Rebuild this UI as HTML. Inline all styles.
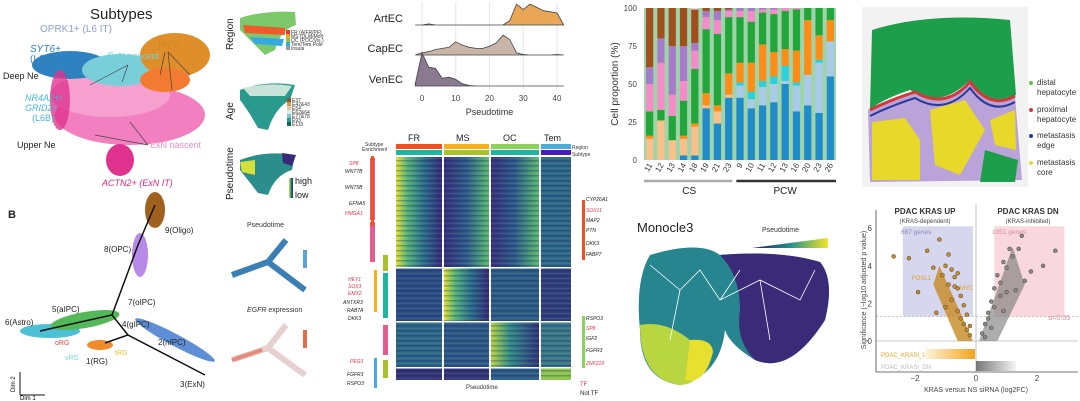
<!DOCTYPE html>
<html><head><meta charset="utf-8"><style>
html,body{margin:0;padding:0;background:#fff;}
svg{display:block;font-family:"Liberation Sans",sans-serif;}
</style></head><body>
<svg id="s" width="1080" height="401" viewBox="0 0 1080 401">
<defs>
<linearGradient id="hm1" x1="0" x2="1" y1="0" y2="0"><stop offset="0" stop-color="#e8e33a"/><stop offset="0.25" stop-color="#55b57a"/><stop offset="0.6" stop-color="#2a6f8e"/><stop offset="1" stop-color="#352a7a"/></linearGradient>
<linearGradient id="hm2" x1="0" x2="1" y1="0" y2="0"><stop offset="0" stop-color="#38307e"/><stop offset="0.5" stop-color="#2c5e8c"/><stop offset="1" stop-color="#5bbd70"/></linearGradient>
<linearGradient id="hm3" x1="0" x2="1"><stop offset="0" stop-color="#b9d843"/><stop offset="0.4" stop-color="#2f8c8a"/><stop offset="1" stop-color="#33357d"/></linearGradient>
<linearGradient id="viri" x1="0" x2="1"><stop offset="0" stop-color="#2a1b62"/><stop offset="0.5" stop-color="#21908c"/><stop offset="1" stop-color="#f1e52a"/></linearGradient>
<linearGradient id="vdn" x1="0" x2="1"><stop offset="0" stop-color="#f4f4f4"/><stop offset="1" stop-color="#777"/></linearGradient>
<linearGradient id="vup" x1="0" x2="1"><stop offset="0" stop-color="#fff4dc"/><stop offset="1" stop-color="#f2a41d"/></linearGradient>
<pattern id="rows" width="6" height="5" patternUnits="userSpaceOnUse"><rect y="0" width="6" height="1.5" fill="#1a1a5a" opacity="0.3"/><rect y="3" width="6" height="0.8" fill="#9ad060" opacity="0.15"/></pattern>
</defs>

<!-- Left UMAP -->
<g>
<text x="90" y="19" font-size="15" fill="#222">Subtypes</text>
<text x="40" y="32" font-size="10" fill="#8aa3c8">OPRK1+ (L6 IT)</text>
<ellipse cx="130" cy="115" rx="75" ry="30" fill="#f27fbf"/>
<ellipse cx="110" cy="95" rx="60" ry="22" fill="#f6a0cf"/>
<ellipse cx="70" cy="65" rx="38" ry="14" fill="#2f82c0"/>
<ellipse cx="120" cy="70" rx="38" ry="16" fill="#79cfd9"/>
<ellipse cx="175" cy="55" rx="35" ry="22" fill="#e08e2a"/>
<ellipse cx="165" cy="80" rx="25" ry="12" fill="#f27b31"/>
<ellipse cx="120" cy="160" rx="14" ry="16" fill="#e0338f"/>
<ellipse cx="60" cy="100" rx="10" ry="30" fill="#e0338f" opacity="0.8"/>
<text x="30" y="52" font-size="10" fill="#2f82c0" font-style="italic">SYT6+</text>
<text x="30" y="62" font-size="10" fill="#2f82c0">(L6 CT)</text>
<text x="3" y="79" font-size="9" fill="#222">Deep Ne</text>
<text x="25" y="101" font-size="9" fill="#3fb8d8" font-style="italic">NR4A2+/</text>
<text x="25" y="111" font-size="9" fill="#3fb8d8" font-style="italic">GRID2+</text>
<text x="32" y="121" font-size="9" fill="#3fb8d8">(L6B)</text>
<text x="17" y="148" font-size="9" fill="#222">Upper Ne</text>
<text x="108" y="59" font-size="9" fill="#6fd3d8">ExN nascent</text>
<text x="158" y="49" font-size="10" fill="#d08a1a">IPCs</text>
<text x="150" y="148" font-size="9" fill="#f48cbf">ExN nascent</text>
<text x="102" y="186" font-size="9" fill="#d6287f" font-style="italic">ACTN2+ (ExN IT)</text>
<path d="M90 85 L128 65 M122 82 L128 65 M160 75 L165 52 M172 90 L168 52 M190 75 L168 52 M95 135 L148 145 M130 122 L148 145" stroke="#444" stroke-width="0.7" fill="none"/>
</g>

<!-- small umaps -->
<g>
<text transform="translate(233,50) rotate(-90)" font-size="10" fill="#222">Region</text>
<path d="M240 18 Q265 10 295 12 L296 25 Q280 30 275 50 L265 55 Q250 40 240 30Z" fill="#7dc86b"/>
<path d="M243 25 L285 28 L285 35 L245 33Z" fill="#ef5a2a"/>
<path d="M250 37 L284 39 L282 46 L255 44Z" fill="#36a9e1"/>
<rect x="286" y="30" width="4" height="4" fill="#e8392a"/><rect x="286" y="34" width="4" height="4" fill="#f6a21d"/><rect x="286" y="38" width="4" height="4" fill="#8cc63f"/><rect x="286" y="42" width="4" height="4" fill="#36a9e1"/><rect x="286" y="46" width="4" height="4" fill="#999"/>
<g font-size="5" fill="#333"><text x="291" y="34">FR (A/FR/PF)</text><text x="291" y="38">MS (DLM/Mot)</text><text x="291" y="42">OC (POC/Vis.)</text><text x="291" y="46">Tem/Tem.Pole</text><text x="291" y="50">Insula</text></g>
<text transform="translate(233,120) rotate(-90)" font-size="10" fill="#222">Age</text>
<path d="M240 90 Q265 80 295 85 L290 100 Q275 108 268 130 L258 128 Q248 110 240 100Z" fill="#2a9a8e"/>
<path d="M243 88 Q268 82 292 86 L285 96 L250 96Z" fill="#c9e3d8"/>
<g><rect x="287" y="98" width="4" height="4" fill="#8c5a1f"/><rect x="287" y="102" width="4" height="4" fill="#c49a5a"/><rect x="287" y="106" width="4" height="4" fill="#e3c89a"/><rect x="287" y="110" width="4" height="4" fill="#d8eee8"/><rect x="287" y="114" width="4" height="4" fill="#7bc9c2"/><rect x="287" y="118" width="4" height="4" fill="#2f9b90"/><rect x="287" y="122" width="4" height="4" fill="#10665f"/></g>
<g font-size="5" fill="#333"><text x="292" y="102">E37</text><text x="292" y="106">E42&amp;43</text><text x="292" y="110">E54</text><text x="292" y="114">E62&amp;64</text><text x="292" y="118">E77&amp;78</text><text x="292" y="122">E93</text><text x="292" y="126">E110</text></g>
<text transform="translate(233,200) rotate(-90)" font-size="10" fill="#222">Pseudotime</text>
<path d="M240 160 Q265 150 295 155 L292 170 Q275 175 268 195 L258 193 Q248 180 240 170Z" fill="#2b8e8c"/>
<path d="M240 162 L255 160 L255 175 L242 172Z" fill="#d8e03a"/>
<path d="M282 153 L296 155 L292 166 L283 163Z" fill="#3b2a7a"/>
<rect x="289" y="178" width="4" height="20" fill="url(#viri)" transform="rotate(180 291 188)"/>
<text x="295" y="184" font-size="9" fill="#222">high</text><text x="295" y="198" font-size="9" fill="#222">low</text>
</g>

<!-- trajectory B -->
<g>
<text x="8" y="218" font-size="11" font-weight="bold" fill="#222">B</text>
<ellipse cx="155" cy="210" rx="10" ry="18" fill="#a0601e"/>
<ellipse cx="140" cy="255" rx="8" ry="22" fill="#b78ae8"/>
<ellipse cx="50" cy="331" rx="30" ry="7" fill="#4cc0d4"/>
<ellipse cx="85" cy="320" rx="35" ry="8" fill="#54b85a" transform="rotate(-10 85 320)"/>
<ellipse cx="175" cy="340" rx="45" ry="6" fill="#5e8fd6" transform="rotate(28 175 340)"/>
<ellipse cx="100" cy="345" rx="13" ry="5" fill="#f08a2a"/>
<path d="M40 331 L112 315 L138 245 L155 205 M112 315 L128 335 L205 375 M128 335 L105 343" stroke="#111" stroke-width="1.5" fill="none"/>
<g font-size="8" fill="#222"><text x="165" y="233">9(Oligo)</text><text x="104" y="252">8(OPC)</text><text x="128" y="305">7(oIPC)</text><text x="52" y="312">5(aIPC)</text><text x="5" y="325">6(Astro)</text><text x="122" y="327">4(gIPC)</text><text x="158" y="345">2(nIPC)</text><text x="86" y="364">1(RG)</text><text x="180" y="387">3(ExN)</text></g>
<text x="55" y="345" font-size="7" fill="#e8443a">oRG</text><text x="65" y="360" font-size="7" fill="#6fd8e0">vRG</text><text x="115" y="355" font-size="7" fill="#e8c52a">tRG</text>
<path d="M20 395 L20 372 M20 395 L45 395" stroke="#111" stroke-width="1" fill="none"/>
<text x="20" y="400" font-size="6">Dim 1</text>
<text transform="translate(15,392) rotate(-90)" font-size="6">Dim 2</text>
<text x="247" y="227" font-size="7" fill="#333">Pseudotime</text>
<path d="M232 275 L268 262 L286 240 M268 262 L305 290" stroke="#3b7fb5" stroke-width="6" fill="none"/>
<rect x="303" y="250" width="4" height="18" fill="#5ba3d4"/>
<text x="247" y="312" font-size="7" fill="#333" font-style="italic">EGFR <tspan font-style="normal">expression</tspan></text>
<path d="M232 360 L268 348 L286 325 M268 348 L305 375" stroke="#e6cfcf" stroke-width="6" fill="none"/>
<path d="M232 360 L262 350" stroke="#e88a7a" stroke-width="4"/>
<rect x="303" y="330" width="4" height="18" fill="#e86a4a"/>
</g>

<!-- Ridgeline -->
<g id="ridge"></g>

<!-- Heatmap -->
<g>
<rect x="396" y="144" width="46" height="5" fill="#f25022"/><rect x="444" y="144" width="45" height="5" fill="#f8b01a"/><rect x="491" y="144" width="48" height="5" fill="#8cd35e"/><rect x="541" y="144" width="30" height="5" fill="#4aaae8"/>
<rect x="396" y="150" width="46" height="5" fill="#1fb6a0"/><rect x="444" y="150" width="45" height="5" fill="#a7c22a"/><rect x="491" y="150" width="48" height="5" fill="#1fb6a0"/><rect x="541" y="150" width="30" height="5" fill="#4b1db8"/>
<g font-size="9" fill="#222"><text x="408" y="141">FR</text><text x="456" y="141">MS</text><text x="503" y="141">OC</text><text x="544" y="141">Tem</text></g>
<g font-size="5" fill="#333"><text x="572" y="149">Region</text><text x="572" y="156">Subtype</text><text x="365" y="146">Subtype</text><text x="362" y="151">Enrichment</text></g>
<rect x="396" y="157" width="46" height="110" fill="url(#hm1)"/><rect x="444" y="157" width="45" height="110" fill="url(#hm2)"/><rect x="491" y="157" width="48" height="110" fill="url(#hm2)"/><rect x="541" y="157" width="30" height="110" fill="#2e6a8c"/>
<rect x="396" y="268" width="46" height="53" fill="#2c4f88"/><rect x="444" y="268" width="45" height="53" fill="url(#hm1)"/><rect x="491" y="268" width="48" height="53" fill="#2d5e8a"/><rect x="541" y="268" width="30" height="53" fill="#33407f"/>
<rect x="396" y="322" width="46" height="45" fill="#2d6a8c"/><rect x="444" y="322" width="45" height="45" fill="#2e5a8a"/><rect x="491" y="322" width="48" height="45" fill="url(#hm3)"/><rect x="541" y="322" width="30" height="45" fill="#3a7a8a"/>
<rect x="396" y="368" width="46" height="12" fill="#34357a"/><rect x="444" y="368" width="45" height="12" fill="#34357a"/><rect x="491" y="368" width="48" height="12" fill="#2d5e8a"/><rect x="541" y="368" width="30" height="12" fill="#8ec850"/>
<rect x="396" y="157" width="175" height="223" fill="url(#rows)"/>
<g id="hmstripes"></g>
<text x="466" y="389" font-size="6" fill="#333">Pseudotime</text>
<rect x="370" y="158" width="5" height="62" fill="#e35d8f"/><rect x="370" y="222" width="5" height="40" fill="#e35d8f"/><rect x="383" y="255" width="5" height="16" fill="#a7c22a"/><rect x="383" y="273" width="5" height="45" fill="#1fb6a0"/><rect x="383" y="325" width="5" height="30" fill="#e35d8f"/><rect x="383" y="360" width="5" height="18" fill="#a7c22a"/>
<rect x="371" y="156" width="3" height="70" fill="#f25022"/><rect x="374" y="270" width="3" height="42" fill="#f8b01a"/><rect x="374" y="358" width="3" height="30" fill="#4aaae8"/>
<rect x="582" y="200" width="3" height="60" fill="#f25022"/><rect x="582" y="316" width="3" height="52" fill="#8cd35e"/>
<g font-size="5" font-style="italic"><text x="349" y="165" fill="#e0334a">SP8</text><text x="345" y="173" fill="#222">WNT7B</text><text x="345" y="189" fill="#222">WNT5B</text><text x="349" y="205" fill="#222">EFNA5</text><text x="345" y="215" fill="#e0334a">HMGA1</text><text x="348" y="281" fill="#e0334a">HEY1</text><text x="348" y="288" fill="#e0334a">SOX3</text><text x="348" y="295" fill="#e0334a">EMX2</text><text x="343" y="304" fill="#222">ANTXR3</text><text x="347" y="312" fill="#222">RAB7A</text><text x="348" y="320" fill="#222">DKK3</text><text x="350" y="363" fill="#e0334a">PEG3</text><text x="347" y="376" fill="#222">FGFR3</text><text x="347" y="385" fill="#222">RSPO3</text>
<text x="586" y="201" fill="#222">CYP26A1</text><text x="586" y="212" fill="#e0334a">SOX11</text><text x="586" y="222" fill="#222">MAP2</text><text x="586" y="232" fill="#222">PTN</text><text x="586" y="245" fill="#222">DKK3</text><text x="586" y="256" fill="#222">FABP7</text><text x="586" y="320" fill="#222">RSPO3</text><text x="586" y="330" fill="#e0334a">SP8</text><text x="586" y="340" fill="#222">IGF2</text><text x="586" y="352" fill="#222">FGFR3</text><text x="586" y="365" fill="#e0334a">ZNF219</text></g>
<text x="580" y="386" font-size="6" fill="#e0334a">TF</text><text x="580" y="395" font-size="6" fill="#222">Not TF</text>
</g>

<!-- stacked bar chart -->
<g id="bars"></g>

<!-- Monocle3 -->
<g>
<text x="637" y="232" font-size="13" fill="#222">Monocle3</text>
<text x="762" y="232" font-size="7" fill="#333">Pseudotime</text>
<path d="M752 248 L828 238 L828 248Z" fill="url(#viri)"/>
<path d="M650 255 Q700 240 720 255 Q780 250 820 262 Q835 280 825 320 Q790 375 755 360 Q730 345 725 330 Q720 375 680 385 Q640 380 640 330 Q635 280 650 255Z" fill="#26858e"/>
<path d="M720 255 Q780 250 820 262 Q835 280 825 320 Q790 375 755 360 Q735 340 740 310 Q740 275 720 255Z" fill="#3a2a78"/>
<path d="M640 325 Q665 320 690 340 Q715 340 712 355 Q700 385 680 385 Q640 380 640 325Z" fill="#b7d640"/>
<path d="M690 340 Q712 338 713 352 Q705 385 685 380Z" fill="#e8e02e"/>
<path d="M650 265 L680 290 L700 270 L720 300 L760 280 L800 300 L815 270 M680 290 L670 340 M760 280 L770 340 M720 300 L740 270" stroke="#fff" stroke-width="0.8" fill="none"/>
</g>

<!-- spatial tissue -->
<g>
<rect x="862" y="7" width="166" height="180" fill="#f2f2f2"/>
<path d="M872 30 Q930 12 1010 20 L1016 95 Q990 110 970 80 Q940 110 910 90 Q880 100 870 110Z" fill="#1c9e4a"/>
<path d="M868 110 Q890 100 915 92 Q945 110 970 82 Q990 110 1015 96 L1022 180 L870 182Z" fill="#b9a3d8"/>
<path d="M872 122 L905 118 L920 140 L920 180 L872 180Z" fill="#e8d82a"/>
<path d="M930 110 L965 100 L985 130 L960 175 L935 165Z" fill="#e8d82a"/>
<path d="M990 120 L1015 110 L1016 150 L995 145Z" fill="#e8d82a"/>
<path d="M985 150 L1018 160 L1015 182 L980 182Z" fill="#1c9e4a"/>
<path d="M870 110 Q890 100 915 92 Q945 110 970 82 Q990 110 1015 96" stroke="#d23a3a" stroke-width="3" fill="none"/>
<path d="M870 116 Q890 106 915 98 Q945 116 970 88 Q990 116 1015 102" stroke="#2a3a98" stroke-width="2" fill="none"/>
<g font-size="8" fill="#333"><circle cx="1031" cy="83" r="2" fill="#5cc040"/><text x="1037" y="85">distal</text><text x="1037" y="95">hepatocyte</text><circle cx="1031" cy="110" r="2" fill="#d23a3a"/><text x="1037" y="112">proximal</text><text x="1037" y="122">hepatocyte</text><circle cx="1031" cy="136" r="2" fill="#2a3a98"/><text x="1037" y="138">metastasis</text><text x="1037" y="148">edge</text><circle cx="1031" cy="163" r="2" fill="#e8d82a"/><text x="1037" y="165">metastasis</text><text x="1037" y="175">core</text></g>
</g>

<!-- volcano -->
<g id="volcano"></g>
</svg>
<script>
const NS="http://www.w3.org/2000/svg";
function mk(p,tag,at,txt){const e=document.createElementNS(NS,tag);for(const k in at)e.setAttribute(k,at[k]);if(txt!==undefined)e.textContent=txt;p.appendChild(e);return e;}

// ---- ridgeline data ----
const ridgeNames=["ArtEC","CapEC","VenEC"];
const ridgeX=[-2,0,2,4,6,8,10,12,14,16,18,20,22,24,26,28,30,32,34,36,38,40,42];
const ridgeArt=[0,0,0.05,0,0,0,0,0,0,0,0,0,0,0,0.2,0.95,0.7,0.95,0.8,0.65,0.6,0.55,0];
const ridgeCap=[0,0.1,0.15,0.25,0.3,0.35,0.6,0.45,0.35,0.3,0.3,0.4,0.55,0.9,0.7,0.1,0.02,0,0,0,0,0.02,0];
const ridgeVen=[0.1,1.5,0.85,0.8,0.35,0.4,0.3,0.1,0.02,0,0,0,0,0,0,0,0,0,0,0,0,0,0];
const ridgeTicks=[0,10,20,30,40];
const rg=document.getElementById('ridge');
const rx=v=>422+v*3.375;
const base=[25,55,86],ht=22,fills=["#e8a656","#c9b5a8","#8a7a90"];
ridgeTicks.forEach(t=>{const l=mk(rg,'line',{x1:rx(t),x2:rx(t),y1:2,y2:90,stroke:'#e6e6e6'});


const tx=mk(rg,'text',{x:rx(t),y:101,'font-size':8,fill:'#444','text-anchor':'middle'},t);

});
[ridgeArt,ridgeCap,ridgeVen].forEach((arr,i)=>{let d=`M${rx(ridgeX[0])} ${base[i]}`;arr.forEach((v,j)=>{d+=` L${rx(ridgeX[j])} ${base[i]-v*ht}`});d+=` L${rx(ridgeX[ridgeX.length-1])} ${base[i]}Z`;
const p=mk(rg,'path',{d:d,fill:fills[i],stroke:'#444','stroke-width':0.8});


const t=mk(rg,'text',{x:403,y:base[i]-3,'font-size':11,fill:'#222','text-anchor':'end'},ridgeNames[i]);

});
const rt=mk(rg,'text',{x:rx(20),y:115,'font-size':9,fill:'#333','text-anchor':'middle'},'Pseudotime');



// heatmap separators
const hs=document.getElementById('hmstripes');
[267,321,367].forEach(y=>{const l=mk(hs,'rect',{x:396,y:y,width:175,height:1.5,fill:'#fff'});});
[442,489,539].forEach(x=>{const l=mk(hs,'rect',{x:x,y:157,width:1.5,height:223,fill:'#fff'});});

// ---- stacked bar data ----
const barCats=["11","12","13","14","18","19","21","23","9","10","11","12","13","16","20","23","26"];
const serNames=["blue","lightblue","cyan","tan","orange","green","pink","purple","brown"];
const serColors=["#1f8bc8","#a9cbe8","#2bd0dc","#f8c08a","#ff8c14","#22a63a","#f58bc8","#a67bc9","#a1501d"];
const sBlue=[0,0,0,3,3,34,24,41,41,34,36,38,50,32,36,31,55];
const sLight=[0,0,0,0,0,0,0,0,8,6,12,12,2,17,20,33,23];
const sCyan=[0,0,0,0,0,0,0,0,2,5,4,5,10,2,0,2,0];
const sTan=[14,26,13,11,19,2,8,2,0,0,0,0,0,0,0,0,0];
const sOrange=[2,0,0,2,2,8,4,14,13,19,24,16,11,21,36,16,14];
const sGreen=[16,7,16,23,36,42,47,37,30,27,21,25,25,27,8,18,8];
const sPink=[18,31,14,13,12,8,9,4,4,7,2,3,2,1,0,0,0];
const sPurple=[11,16,32,23,5,4,6,1,2,2,1,1,0,0,0,0,0];
const sBrown=[39,20,25,25,22,2,2,1,0,0,0,0,0,0,0,0,0];
const yTicks=[0,25,50,75,100];
const series=[sBlue,sLight,sCyan,sTan,sOrange,sGreen,sPink,sPurple,sBrown];
const bg=document.getElementById('bars');
const bx0=644,bx1=836,by0=160,by1=8;
const yS=v=>by0-(v/100)*(by0-by1);
const bw=(bx1-bx0)/barCats.length;
yTicks.forEach(t=>{const tx=mk(bg,'text',{x:637,y:yS(t)+3,'font-size':8,fill:'#444','text-anchor':'end'},t);

});
const yt=mk(bg,'text',{transform:`translate(618,84) rotate(-90)`,'font-size':10,fill:'#333','text-anchor':'middle'},'Cell proportion (%)');


mk(bg,'rect',{x:bx0,y:by1,width:bx1-bx0,height:by0-by1,fill:'#9fd4ab'});
barCats.forEach((c,i)=>{let acc=0;const x=bx0+i*bw+bw*0.18;
series.forEach((s,k)=>{const v=s[i];if(v<=0)return;const y=yS(acc+v);
const r=mk(bg,'rect',{x:x,y:y,width:bw*0.64,height:yS(acc)-y,fill:serColors[k]});

acc+=v;});
const top=yS(acc);if(acc<100){const r=mk(bg,'rect',{x:x,y:yS(100),width:bw*0.64,height:top-yS(100),fill:'#f6d0e6'});}
const tx=mk(bg,'text',{transform:`translate(${x+bw*0.32+3},${by0+5}) rotate(-60)`,'font-size':8,fill:'#333','text-anchor':'end'},c);

});
mk(bg,'line',{x1:bx0,x2:bx0+8*bw-2,y1:181,y2:181,stroke:'#aaa','stroke-width':2.5});
mk(bg,'line',{x1:bx0+8*bw+2,x2:bx1,y1:181,y2:181,stroke:'#333','stroke-width':2.5});
const g1=mk(bg,'text',{x:bx0+4*bw,y:194,'font-size':10,fill:'#222','text-anchor':'middle'},'CS');
const g2=mk(bg,'text',{x:bx0+12.5*bw,y:194,'font-size':10,fill:'#222','text-anchor':'middle'},'PCW');

// ---- volcano data ----
const vFC=[-2.7,-2.2,-1.9,-1.6,-1.4,-1.2,-1.1,-1.0,-0.9,-0.8,-0.8,-0.7,-0.6,-0.6,-0.5,-0.5,-0.4,-0.4,-0.3,-0.3,-0.2,-0.2,-1.3,-1.0,-0.7,-0.9,-0.6,0.2,0.3,0.4,0.5,0.6,0.7,0.8,0.9,1.0,1.2,1.4,1.6,1.8,2.2,2.6,0.4,0.6,0.8,1.0,1.1,0.5,0.3,0.9,1.3,1.5];
const vSig=[4.5,4.4,2.6,4.8,3.9,5.4,3.5,4.0,3.0,3.8,2.2,3.4,2.8,1.6,2.4,1.2,1.9,0.9,1.4,0.6,0.8,0.3,1.5,1.8,2.9,4.6,3.6,0.4,0.9,1.5,2.1,2.8,3.5,3.1,4.2,3.9,4.5,4.9,3.2,3.7,4.0,4.8,1.2,1.8,2.4,2.6,4.9,0.7,0.2,1.6,2.7,5.6];
const vTicksX=[-2,0,2];
const vTicksY=[0,2,4,6];
const vg=document.getElementById('volcano');
const vx=v=>976+v*30.5, vy=v=>341-v*18.8;
mk(vg,'rect',{x:vx(-2.4),y:vy(6.1),width:vx(-0.1)-vx(-2.4),height:vy(1.3)-vy(6.1),fill:'#d6d6ee'});
mk(vg,'rect',{x:vx(0.6),y:vy(6.1),width:vx(2.9)-vx(0.6),height:vy(1.3)-vy(6.1),fill:'#f8d8de'});
mk(vg,'line',{x1:876,x2:1078,y1:vy(1.3),y2:vy(1.3),stroke:'#aaa','stroke-dasharray':'2,2','stroke-width':0.6});
mk(vg,'line',{x1:876,x2:1078,y1:vy(0),y2:vy(0),stroke:'#999','stroke-width':0.6});
mk(vg,'line',{x1:vx(0),x2:vx(0),y1:205,y2:372,stroke:'#999','stroke-width':0.6});
mk(vg,'line',{x1:876,x2:876,y1:210,y2:372,stroke:'#444','stroke-width':0.8});
mk(vg,'line',{x1:876,x2:1078,y1:372,y2:372,stroke:'#444','stroke-width':0.8});
mk(vg,'path',{d:`M${vx(-1.2)} ${vy(4)} L${vx(-0.1)} ${vy(0)} L${vx(-0.6)} ${vy(0)} L${vx(-1.4)} ${vy(3)}Z`,fill:'#c78a22',opacity:0.8});
mk(vg,'path',{d:`M${vx(1.2)} ${vy(5)} L${vx(0.1)} ${vy(0)} L${vx(0.7)} ${vy(0)} L${vx(1.6)} ${vy(3)}Z`,fill:'#777',opacity:0.6});
vFC.forEach((f,i)=>{const c=mk(vg,'circle',{cx:vx(f),cy:vy(vSig[i]),r:2,fill:f<0?'#c98a22':'#8a8a80',stroke:'#333','stroke-width':0.4});

});
vTicksX.forEach(t=>{const tx=mk(vg,'text',{x:vx(t),y:381,'font-size':8,fill:'#444','text-anchor':'middle'},t===0?'0':(t<0?'−'+(-t):t));});
vTicksY.forEach(t=>{const tx=mk(vg,'text',{x:872,y:vy(t)+3,'font-size':8,fill:'#444','text-anchor':'end'},t);});
const vt=[[976,392,'KRAS versus NS siRNA (log2FC)',7,'#444','middle'],[925,214,'PDAC KRAS UP',8,'#333','middle'],[925,223,'(KRAS-dependent)',6,'#444','middle'],[1028,214,'PDAC KRAS DN',8,'#333','middle'],[1028,223,'(KRAS-inhibited)',6,'#444','middle'],[901,234,'667 genes',6.5,'#8a8ab8','start'],[992,234,'1051 genes',6.5,'#d88a9a','start'],[1070,320,'α=0.05',7,'#d88a9a','end'],[881,357,'PDAC_KRASI_UP',6,'#e8a020','start'],[881,369,'PDAC_KRASI_DN',6,'#bbb','start'],[912,280,'FOSL1',6,'#e8a020','start'],[960,290,'MYC',6,'#e8a020','start']];
vt.forEach(a=>{const t=mk(vg,'text',{x:a[0],y:a[1],'font-size':a[3],fill:a[4],'text-anchor':a[5],'font-weight':a[2].startsWith('PDAC K')?'bold':'normal'},a[2]);});
mk(vg,'rect',{x:925,y:349,width:50,height:10,fill:'url(#vup)'});
mk(vg,'rect',{x:976,y:361,width:40,height:10,fill:'url(#vdn)',transform:'rotate(180 996 366)'});
const yl=mk(vg,'text',{transform:'translate(866,290) rotate(-90)','font-size':7,fill:'#444','text-anchor':'middle'},'Significance (−log10 adjusted p value)');


</script>
</body></html>
